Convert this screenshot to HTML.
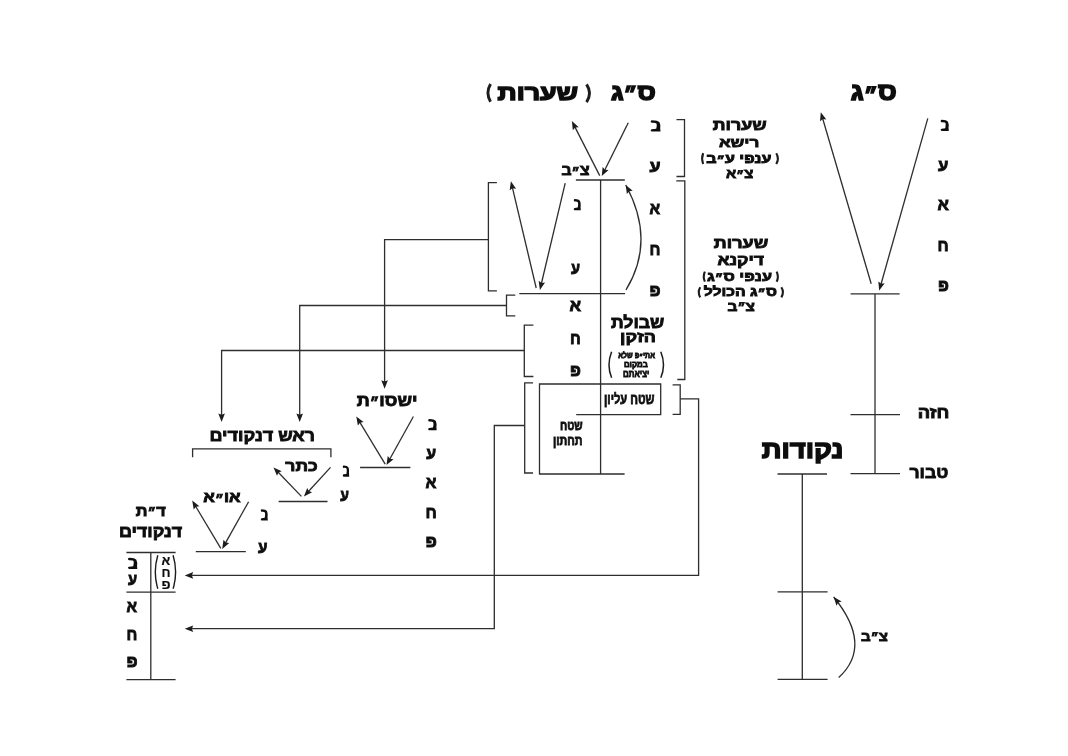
<!DOCTYPE html>
<html><head><meta charset="utf-8"><style>
html,body{margin:0;padding:0;background:#fff;}
svg{display:block;font-family:"Liberation Sans", sans-serif;}
text{unicode-bidi:bidi-override;direction:ltr}
</style></head><body>
<svg width="1068" height="756" viewBox="0 0 1068 756">
<defs><filter id="bl" x="0" y="0" width="1068" height="756" filterUnits="userSpaceOnUse"><feGaussianBlur stdDeviation="0.3"/></filter></defs>
<rect width="1068" height="756" fill="#fff"/>
<g filter="url(#bl)">
<g>
<line x1="599.7" y1="175.6" x2="573.7175637501874" y2="124.66320951025959" stroke="#2e2e2e" stroke-width="1.3"/>
<polygon points="571.90,121.10 578.70,127.17 575.17,127.51 572.82,130.17" fill="#1c1c1c"/>
<line x1="628.3" y1="122.7" x2="603.5781105662735" y2="172.51693946267906" stroke="#2e2e2e" stroke-width="1.3"/>
<polygon points="601.80,176.10 602.62,167.02 605.00,169.65 608.53,169.95" fill="#1c1c1c"/>
<line x1="575.9" y1="180" x2="624.8" y2="180" stroke="#2e2e2e" stroke-width="1.3"/>
<line x1="600.6" y1="180" x2="600.6" y2="474" stroke="#2e2e2e" stroke-width="1.3"/>
<line x1="536.2" y1="288" x2="511.8220471598204" y2="185.09227812920236" stroke="#2e2e2e" stroke-width="1.3"/>
<polygon points="510.90,181.20 516.07,188.71 512.56,188.21 509.65,190.23" fill="#1c1c1c"/>
<line x1="565.2" y1="183.1" x2="540.8220471598204" y2="286.0077218707976" stroke="#2e2e2e" stroke-width="1.3"/>
<polygon points="539.90,289.90 538.65,280.87 541.56,282.89 545.07,282.39" fill="#1c1c1c"/>
<line x1="519.3" y1="293.6" x2="625.1" y2="293.6" stroke="#2e2e2e" stroke-width="1.3"/>
<path d="M626,289.9 Q656.15,240.55 625.7,185" fill="none" stroke="#2e2e2e" stroke-width="1.3"/>
<polygon points="625.70,185.00 632.68,190.87 629.16,191.31 626.89,194.04" fill="#1c1c1c"/>
<path d="M496.9,182.7 H488.4 V290.8 H496.9" fill="none" stroke="#2e2e2e" stroke-width="1.3"/>
<path d="M488.4,239.7 L384.6,239.7 L384.60,384.80" fill="none" stroke="#2e2e2e" stroke-width="1.3"/>
<polygon points="384.60,388.80 381.30,380.30 384.60,381.60 387.90,380.30" fill="#1c1c1c"/>
<path d="M515.3,295.2 H506.5 V315.8 H515.3" fill="none" stroke="#2e2e2e" stroke-width="1.3"/>
<path d="M506.5,305.5 L299.7,305.5 L299.70,417.90" fill="none" stroke="#2e2e2e" stroke-width="1.3"/>
<polygon points="299.70,421.90 296.40,413.40 299.70,414.70 303.00,413.40" fill="#1c1c1c"/>
<path d="M533.4,325.2 H524.3 V376.5 H533.4" fill="none" stroke="#2e2e2e" stroke-width="1.3"/>
<path d="M524.3,350.5 L221.6,350.5 L221.60,417.90" fill="none" stroke="#2e2e2e" stroke-width="1.3"/>
<polygon points="221.60,421.90 218.30,413.40 221.60,414.70 224.90,413.40" fill="#1c1c1c"/>
<path d="M533,382.8 H524.7 V473 H533" fill="none" stroke="#2e2e2e" stroke-width="1.3"/>
<path d="M524.7,425.5 L494.3,425.5 L494.3,628.7 L188.70,628.70" fill="none" stroke="#2e2e2e" stroke-width="1.3"/>
<polygon points="184.70,628.70 193.20,625.40 191.90,628.70 193.20,632.00" fill="#1c1c1c"/>
<path d="M676.5,119.6 H684.5 V176.5 H676.5" fill="none" stroke="#2e2e2e" stroke-width="1.3"/>
<path d="M676.3,180.9 H684.8 V379.5 H677.3" fill="none" stroke="#2e2e2e" stroke-width="1.3"/>
<path d="M672.6,384.8 H680.2 V414.3 H672.6" fill="none" stroke="#2e2e2e" stroke-width="1.3"/>
<path d="M680.2,398.8 L698.6,398.8 L698.6,575.4 L188.70,575.40" fill="none" stroke="#2e2e2e" stroke-width="1.3"/>
<polygon points="184.70,575.40 193.20,572.10 191.90,575.40 193.20,578.70" fill="#1c1c1c"/>
<path d="M576.2,414.7 H660.7 V384 H539.5 V474 H624.6" fill="none" stroke="#2e2e2e" stroke-width="1.3"/>
<path d="M490.55,84.10 Q485.35,92.90 490.55,101.70" fill="none" stroke="#1c1c1c" stroke-width="2.9"/>
<path d="M586.55,84.40 Q592.55,93.25 586.55,102.10" fill="none" stroke="#1c1c1c" stroke-width="2.9"/>
<path d="M703.15,153.20 Q701.15,158.60 703.15,164.00" fill="none" stroke="#1c1c1c" stroke-width="2.1"/>
<path d="M776.25,153.20 Q779.45,158.60 776.25,164.00" fill="none" stroke="#1c1c1c" stroke-width="2.1"/>
<path d="M704.85,271.60 Q702.65,276.65 704.85,281.70" fill="none" stroke="#1c1c1c" stroke-width="2.1"/>
<path d="M776.65,271.60 Q779.05,276.65 776.65,281.70" fill="none" stroke="#1c1c1c" stroke-width="2.1"/>
<path d="M700.25,287.30 Q697.25,292.35 700.25,297.40" fill="none" stroke="#1c1c1c" stroke-width="2.1"/>
<path d="M781.35,287.30 Q784.55,292.35 781.35,297.40" fill="none" stroke="#1c1c1c" stroke-width="2.1"/>
<path d="M611.6,351.8 Q606.40,365.25 611.6,377.7" fill="none" stroke="#1c1c1c" stroke-width="1.5"/>
<path d="M660.8,351.8 Q666.20,365.25 660.8,377.7" fill="none" stroke="#1c1c1c" stroke-width="1.5"/>
<line x1="871.2" y1="283.7" x2="821.9278172105237" y2="116.03771134136564" stroke="#2e2e2e" stroke-width="1.3"/>
<polygon points="820.80,112.20 826.36,119.42 822.83,119.11 820.03,121.29" fill="#1c1c1c"/>
<line x1="927.8" y1="118.4" x2="880.2864778181133" y2="286.7503810642159" stroke="#2e2e2e" stroke-width="1.3"/>
<polygon points="879.20,290.60 878.33,281.52 881.16,283.67 884.68,283.32" fill="#1c1c1c"/>
<line x1="850.6" y1="293.9" x2="899.6" y2="293.9" stroke="#2e2e2e" stroke-width="1.3"/>
<line x1="875" y1="293.9" x2="875" y2="473.6" stroke="#2e2e2e" stroke-width="1.3"/>
<line x1="850.5" y1="414.6" x2="900" y2="414.6" stroke="#2e2e2e" stroke-width="1.3"/>
<line x1="850.5" y1="473.6" x2="900" y2="473.6" stroke="#2e2e2e" stroke-width="1.3"/>
<line x1="777.5" y1="474" x2="827" y2="474" stroke="#2e2e2e" stroke-width="1.3"/>
<line x1="802.3" y1="474" x2="802.3" y2="679.5" stroke="#2e2e2e" stroke-width="1.3"/>
<line x1="777.6" y1="591.9" x2="827.6" y2="591.9" stroke="#2e2e2e" stroke-width="1.3"/>
<line x1="777.6" y1="679.4" x2="827.6" y2="679.4" stroke="#2e2e2e" stroke-width="1.3"/>
<path d="M838.7,677.6 Q873.40,645.70 833.7,597" fill="none" stroke="#2e2e2e" stroke-width="1.3"/>
<polygon points="833.70,597.00 841.63,601.50 838.25,602.58 836.51,605.67" fill="#1c1c1c"/>
<line x1="385.2" y1="464.2" x2="358.37272999027914" y2="419.92108029537417" stroke="#2e2e2e" stroke-width="1.3"/>
<polygon points="356.30,416.50 363.53,422.06 360.03,422.66 357.88,425.48" fill="#1c1c1c"/>
<line x1="413.4" y1="416.5" x2="388.4401217711897" y2="461.5020109329851" stroke="#2e2e2e" stroke-width="1.3"/>
<polygon points="386.50,465.00 387.74,455.97 389.99,458.70 393.51,459.17" fill="#1c1c1c"/>
<line x1="360.1" y1="467.5" x2="410.4" y2="467.5" stroke="#2e2e2e" stroke-width="1.3"/>
<path d="M192.6,457.3 V448.9 H330.9 V457.3" fill="none" stroke="#2e2e2e" stroke-width="1.3"/>
<line x1="301.4" y1="496.4" x2="276.2732293397272" y2="470.2825681308992" stroke="#2e2e2e" stroke-width="1.3"/>
<polygon points="273.50,467.40 281.77,471.24 278.49,472.59 277.01,475.81" fill="#1c1c1c"/>
<line x1="330.5" y1="467.4" x2="306.603818961926" y2="493.45222744752425" stroke="#2e2e2e" stroke-width="1.3"/>
<polygon points="303.90,496.40 307.21,487.91 308.77,491.09 312.08,492.37" fill="#1c1c1c"/>
<line x1="278.6" y1="501.5" x2="327.5" y2="501.5" stroke="#2e2e2e" stroke-width="1.3"/>
<line x1="220.8" y1="548.3" x2="194.25692526998765" y2="504.03060613211227" stroke="#2e2e2e" stroke-width="1.3"/>
<polygon points="192.20,500.60 199.40,506.19 195.90,506.78 193.74,509.59" fill="#1c1c1c"/>
<line x1="248.6" y1="501.7" x2="224.1526114478009" y2="545.4089674115074" stroke="#2e2e2e" stroke-width="1.3"/>
<polygon points="222.20,548.90 223.47,539.87 225.71,542.62 229.23,543.09" fill="#1c1c1c"/>
<line x1="195.8" y1="551.7" x2="245.8" y2="551.7" stroke="#2e2e2e" stroke-width="1.3"/>
<line x1="126.4" y1="552.5" x2="175.6" y2="552.5" stroke="#2e2e2e" stroke-width="1.3"/>
<line x1="126.4" y1="592.2" x2="175.6" y2="592.2" stroke="#2e2e2e" stroke-width="1.3"/>
<line x1="126.4" y1="679.7" x2="175.6" y2="679.7" stroke="#2e2e2e" stroke-width="1.3"/>
<line x1="150.8" y1="552.5" x2="150.8" y2="679.7" stroke="#2e2e2e" stroke-width="1.3"/>
<path d="M157.8,555.3 Q152.80,571.95 157.8,588.8" fill="none" stroke="#1c1c1c" stroke-width="1.4"/>
<path d="M173.1,555.3 Q178.10,571.95 173.1,588.8" fill="none" stroke="#1c1c1c" stroke-width="1.4"/>
</g>
<g fill="#111" stroke="#111">
<text font-size="23.10" font-weight="bold" stroke-width="1.5" transform="translate(611.00 100.05) scale(1.137 1)">ג<tspan dy="2.31" font-size="19.64">״</tspan><tspan dy="-2.31">ס</tspan></text>
<text font-size="21.95" font-weight="bold" stroke-width="1.5" transform="translate(497.51 99.75) scale(1.215 1)">תורעש</text>
<text font-size="23.93" font-weight="bold" stroke-width="1.5" transform="translate(850.80 100.25) scale(1.122 1)">ג<tspan dy="2.39" font-size="20.34">״</tspan><tspan dy="-2.39">ס</tspan></text>
<text font-size="25.41" font-weight="bold" stroke-width="1.5" transform="translate(761.68 457.95) scale(1.084 1)">תודוקנ</text>
<path d="M0.15,0 Q0.72,0 0.9,0.18 Q1.03,0.4 0.97,0.72 L1,1 H0.13 Q0,1 0,0.9 Q0,0.79 0.13,0.79 L0.56,0.75 Q0.66,0.5 0.6,0.3 Q0.55,0.21 0.13,0.22 Q0,0.22 0,0.11 Q0,0 0.15,0 Z" stroke="none" transform="translate(940.70 119.70) scale(8.100 11.300)"/>
<text font-size="16.75" font-weight="bold" stroke-width="0.85" transform="translate(938.00 170.68) scale(1.000 1)">ע</text>
<text font-size="16.75" font-weight="bold" stroke-width="0.85" transform="translate(937.60 210.47) scale(1.000 1)">א</text>
<text font-size="16.75" font-weight="bold" stroke-width="0.85" transform="translate(937.60 250.57) scale(0.950 1)">ח</text>
<text font-size="16.75" font-weight="bold" stroke-width="0.85" transform="translate(938.00 290.57) scale(1.000 1)">פ</text>
<text font-size="15.93" font-weight="bold" stroke-width="0.85" transform="translate(917.70 417.97) scale(1.152 1)">הזח</text>
<text font-size="16.09" font-weight="bold" stroke-width="0.85" transform="translate(909.49 478.18) scale(1.092 1)">רובט</text>
<text font-size="13.94" font-weight="bold" stroke-width="0.85" transform="translate(861.00 641.08) scale(1.080 1)">ב<tspan dy="1.39" font-size="11.85">״</tspan><tspan dy="-1.39">צ</tspan></text>
<text font-size="14.94" font-weight="bold" stroke-width="0.85" transform="translate(712.79 129.97) scale(1.193 1)">תורעש</text>
<text font-size="13.78" font-weight="bold" stroke-width="0.85" transform="translate(718.90 147.17) scale(1.242 1)">אשיר</text>
<text font-size="12.62" font-weight="bold" stroke-width="0.85" transform="translate(706.20 162.57) scale(1.269 1)">ב<tspan dy="1.26" font-size="10.73">״</tspan><tspan dy="-1.26">ע יפנע</tspan></text>
<text font-size="13.94" font-weight="bold" stroke-width="0.85" transform="translate(726.00 178.27) scale(1.077 1)">א<tspan dy="1.39" font-size="11.85">״</tspan><tspan dy="-1.39">צ</tspan></text>
<text font-size="14.94" font-weight="bold" stroke-width="0.85" transform="translate(713.81 247.97) scale(1.207 1)">תורעש</text>
<text font-size="14.27" font-weight="bold" stroke-width="0.85" transform="translate(717.50 264.77) scale(1.229 1)">אנקיד</text>
<text font-size="13.78" font-weight="bold" stroke-width="0.85" transform="translate(707.00 281.18) scale(1.182 1)">ג<tspan dy="1.38" font-size="11.71">״</tspan><tspan dy="-1.38">ס יפנע</tspan></text>
<text font-size="12.62" font-weight="bold" stroke-width="0.85" transform="translate(703.75 296.18) scale(1.248 1)">ללוכה ג<tspan dy="1.26" font-size="10.73">״</tspan><tspan dy="-1.26">ס</tspan></text>
<text font-size="13.94" font-weight="bold" stroke-width="0.85" transform="translate(727.50 310.88) scale(1.108 1)">ב<tspan dy="1.39" font-size="11.85">״</tspan><tspan dy="-1.39">צ</tspan></text>
<path d="M0.15,0 Q0.72,0 0.9,0.18 Q1.03,0.4 0.97,0.72 L1,1 H0.13 Q0,1 0,0.9 Q0,0.79 0.13,0.79 L0.56,0.75 Q0.66,0.5 0.6,0.3 Q0.55,0.21 0.13,0.22 Q0,0.22 0,0.11 Q0,0 0.15,0 Z" stroke="none" transform="translate(650.70 120.30) scale(9.800 11.300)"/>
<text font-size="16.42" font-weight="bold" stroke-width="0.85" transform="translate(649.59 172.38) scale(1.091 1)">ע</text>
<text font-size="14.11" font-weight="bold" stroke-width="0.85" transform="translate(561.50 175.38) scale(1.115 1)">ב<tspan dy="1.41" font-size="11.99">״</tspan><tspan dy="-1.41">צ</tspan></text>
<path d="M0.15,0 Q0.72,0 0.9,0.18 Q1.03,0.4 0.97,0.72 L1,1 H0.13 Q0,1 0,0.9 Q0,0.79 0.13,0.79 L0.56,0.75 Q0.66,0.5 0.6,0.3 Q0.55,0.21 0.13,0.22 Q0,0.22 0,0.11 Q0,0 0.15,0 Z" stroke="none" transform="translate(573.80 199.00) scale(7.000 11.300)"/>
<text font-size="16.75" font-weight="bold" stroke-width="0.85" transform="translate(570.88 273.88) scale(0.875 1)">ע</text>
<text font-size="16.75" font-weight="bold" stroke-width="0.85" transform="translate(649.50 213.88) scale(0.933 1)">א</text>
<text font-size="16.75" font-weight="bold" stroke-width="0.85" transform="translate(649.50 255.07) scale(0.933 1)">ח</text>
<text font-size="16.75" font-weight="bold" stroke-width="0.85" transform="translate(649.50 296.27) scale(1.018 1)">פ</text>
<text font-size="16.75" font-weight="bold" stroke-width="0.85" transform="translate(569.60 310.88) scale(1.017 1)">א</text>
<text font-size="16.75" font-weight="bold" stroke-width="0.85" transform="translate(570.00 344.18) scale(0.917 1)">ח</text>
<text font-size="16.75" font-weight="bold" stroke-width="0.85" transform="translate(570.00 376.38) scale(1.000 1)">פ</text>
<text font-size="16.26" font-weight="bold" stroke-width="0.85" transform="translate(610.99 327.97) scale(1.086 1)">תלובש</text>
<text font-size="15.10" font-weight="bold" stroke-width="0.85" transform="translate(620.00 341.57) scale(1.190 1)">ןקזה</text>
<text font-size="8.09" font-weight="bold" stroke-width="0.8" transform="translate(618.17 358.00) scale(0.873 1)">אלש פ<tspan dy="0.81" font-size="6.87">״</tspan><tspan dy="-0.81">יתא</tspan></text>
<text font-size="8.09" font-weight="bold" stroke-width="0.8" transform="translate(623.90 367.30) scale(0.972 1)">םוקמב</text>
<text font-size="9.41" font-weight="bold" stroke-width="0.8" transform="translate(623.00 376.60) scale(0.844 1)">םתאיצי</text>
<text font-size="14.03" font-weight="bold" stroke-width="0.8" transform="translate(604.00 403.60) scale(0.789 1)">ןוילע חטש</text>
<text font-size="12.71" font-weight="bold" stroke-width="0.8" transform="translate(560.00 429.60) scale(0.814 1)">חטש</text>
<text font-size="13.37" font-weight="bold" stroke-width="0.8" transform="translate(553.00 444.80) scale(0.805 1)">ןותחת</text>
<text font-size="16.42" font-weight="bold" stroke-width="0.85" transform="translate(356.70 405.97) scale(1.104 1)">ת<tspan dy="1.64" font-size="13.96">״</tspan><tspan dy="-1.64">וסשי</tspan></text>
<path d="M0.15,0 Q0.72,0 0.9,0.18 Q1.03,0.4 0.97,0.72 L1,1 H0.13 Q0,1 0,0.9 Q0,0.79 0.13,0.79 L0.56,0.75 Q0.66,0.5 0.6,0.3 Q0.55,0.21 0.13,0.22 Q0,0.22 0,0.11 Q0,0 0.15,0 Z" stroke="none" transform="translate(428.20 419.00) scale(8.500 11.300)"/>
<text font-size="16.75" font-weight="bold" stroke-width="0.85" transform="translate(426.36 459.07) scale(0.958 1)">ע</text>
<text font-size="16.75" font-weight="bold" stroke-width="0.85" transform="translate(425.40 488.48) scale(0.958 1)">א</text>
<text font-size="16.75" font-weight="bold" stroke-width="0.85" transform="translate(425.40 518.08) scale(0.958 1)">ח</text>
<text font-size="16.75" font-weight="bold" stroke-width="0.85" transform="translate(425.40 546.98) scale(1.045 1)">פ</text>
<text font-size="16.09" font-weight="bold" stroke-width="0.85" transform="translate(209.50 440.88) scale(1.120 1)">םידוקנד שאר</text>
<text font-size="15.27" font-weight="bold" stroke-width="0.85" transform="translate(285.34 471.18) scale(1.145 1)">רתכ</text>
<path d="M0.15,0 Q0.72,0 0.9,0.18 Q1.03,0.4 0.97,0.72 L1,1 H0.13 Q0,1 0,0.9 Q0,0.79 0.13,0.79 L0.56,0.75 Q0.66,0.5 0.6,0.3 Q0.55,0.21 0.13,0.22 Q0,0.22 0,0.11 Q0,0 0.15,0 Z" stroke="none" transform="translate(342.80 465.40) scale(6.400 11.300)"/>
<text font-size="16.75" font-weight="bold" stroke-width="0.85" transform="translate(340.14 500.98) scale(0.842 1)">ע</text>
<text font-size="14.60" font-weight="bold" stroke-width="0.85" transform="translate(203.30 502.07) scale(1.164 1)">א<tspan dy="1.46" font-size="12.41">״</tspan><tspan dy="-1.46">וא</tspan></text>
<path d="M0.15,0 Q0.72,0 0.9,0.18 Q1.03,0.4 0.97,0.72 L1,1 H0.13 Q0,1 0,0.9 Q0,0.79 0.13,0.79 L0.56,0.75 Q0.66,0.5 0.6,0.3 Q0.55,0.21 0.13,0.22 Q0,0.22 0,0.11 Q0,0 0.15,0 Z" stroke="none" transform="translate(260.80 509.30) scale(7.000 11.300)"/>
<text font-size="16.75" font-weight="bold" stroke-width="0.85" transform="translate(257.92 553.17) scale(0.917 1)">ע</text>
<text font-size="14.60" font-weight="bold" stroke-width="0.85" transform="translate(135.82 515.98) scale(1.118 1)">ת<tspan dy="1.46" font-size="12.41">״</tspan><tspan dy="-1.46">ד</tspan></text>
<text font-size="17.08" font-weight="bold" stroke-width="0.85" transform="translate(118.90 536.78) scale(1.048 1)">םידוקנד</text>
<path d="M0.15,0 Q0.72,0 0.9,0.18 Q1.03,0.4 0.97,0.72 L1,1 H0.13 Q0,1 0,0.9 Q0,0.79 0.13,0.79 L0.56,0.75 Q0.66,0.5 0.6,0.3 Q0.55,0.21 0.13,0.22 Q0,0.22 0,0.11 Q0,0 0.15,0 Z" stroke="none" transform="translate(128.00 557.70) scale(9.300 11.300)"/>
<text font-size="16.92" font-weight="bold" stroke-width="0.85" transform="translate(127.88 585.38) scale(0.875 1)">ע</text>
<text font-size="16.75" font-weight="bold" stroke-width="0.85" transform="translate(126.40 611.58) scale(0.925 1)">א</text>
<text font-size="16.75" font-weight="bold" stroke-width="0.85" transform="translate(126.40 639.88) scale(0.925 1)">ח</text>
<text font-size="16.92" font-weight="bold" stroke-width="0.85" transform="translate(126.40 667.38) scale(1.009 1)">פ</text>
<text font-size="13.20" font-weight="bold" stroke-width="0.2" transform="translate(161.50 565.00) scale(0.978 1)">א</text>
<text font-size="13.20" font-weight="bold" stroke-width="0.2" transform="translate(161.50 577.10) scale(0.978 1)">ח</text>
<text font-size="12.71" font-weight="bold" stroke-width="0.2" transform="translate(161.50 588.50) scale(1.100 1)">פ</text>
</g>
</g>
</svg></body></html>
